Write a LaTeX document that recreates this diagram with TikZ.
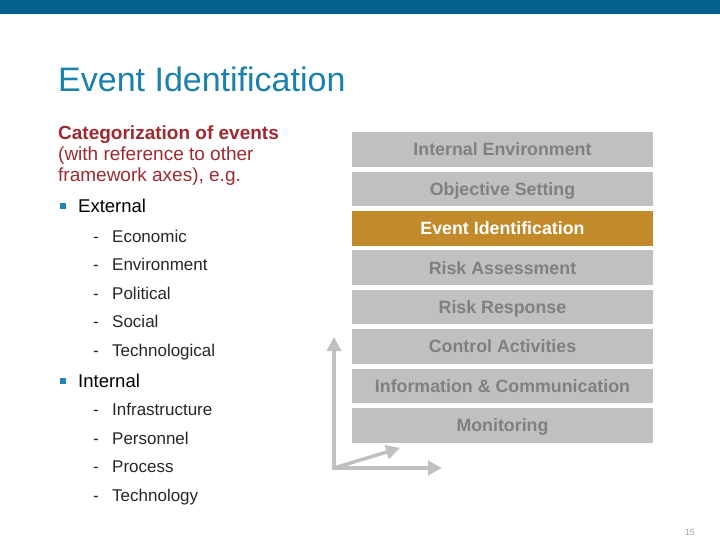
\documentclass[tikz,border=0pt]{standalone}
\usepackage{fontspec}
\setmainfont{Liberation Sans}
\usetikzlibrary{arrows.meta, positioning}
\definecolor{topbar}{HTML}{03608A}
\definecolor{titleblue}{HTML}{1A80B0}
\definecolor{darkred}{HTML}{9E2A2F}
\definecolor{boxgray}{HTML}{C0C0C0}
\definecolor{boxtext}{HTML}{808080}
\definecolor{gold}{HTML}{C28A2B}
\definecolor{bullet}{HTML}{1F87B5}

\begin{document}
\begin{tikzpicture}[
  x=1pt, y=-1pt,
  node distance=4.5pt,
  stage/.style={fill=boxgray, minimum width=301pt, minimum height=34.5pt,
                inner sep=0pt, text height=12.8pt, text depth=0pt,
                text=boxtext, font=\fontsize{17.8}{20}\selectfont\bfseries},
  current/.style={stage, fill=gold, text=white},
  intro/.style={anchor=base west, inner sep=0pt, text=darkred,
                font=\fontsize{19}{21}\selectfont},
  item/.style={anchor=base west, inner sep=0pt, text=black!85,
               font=\fontsize{17}{19}\selectfont},
  group/.style={anchor=base west, inner sep=0pt, text=black,
                font=\fontsize{18.5}{21}\selectfont},
  sq/.style={fill=bullet, minimum size=6pt, inner sep=0pt},
  axis/.style={-{Triangle[length=14pt, width=14pt]}, line width=3.5pt, color=boxgray}
]
  \useasboundingbox (0,0) rectangle (720,540);
  \fill[topbar] (0,0) rectangle (720,14);

  % Title
  \node[anchor=base west, inner sep=0pt, text=titleblue,
        font=\fontsize{34}{38}\selectfont] (title) at (58,92) {Event Identification};

  % Intro text
  \node[intro, font=\fontsize{19}{21}\selectfont\bfseries] (intro1) at (58,140) {Categorization of events};
  \node[intro] (intro2) at (58,161) {(with reference to other};
  \node[intro] (intro3) at (58,182) {framework axes), e.g.};

  % External
  \node[sq] (extsq) at (63,206) {};
  \node[group] (ext) at (78,212) {External};
  \foreach \txt [count=\i] in {Economic, Environment, Political, Social, Technological}
    \node[item] (ext\i) at (93,242+28.5*\i-28.5) {\makebox[19pt][l]{-}\txt};

  % Internal
  \node[sq] (intsq) at (63,381) {};
  \node[group] (int) at (78,387) {Internal};
  \foreach \txt [count=\i] in {Infrastructure, Personnel, Process, Technology}
    \node[item] (int\i) at (93,415.5+28.5*\i-28.5) {\makebox[19pt][l]{-}\txt};

  % ERM components
  \node[stage] (ienv) at (502.5,149.5) {Internal Environment};
  \node[stage, below=of ienv] (obj) {Objective Setting};
  \node[current, below=of obj] (event) {Event Identification};
  \node[stage, below=of event] (assess) {Risk Assessment};
  \node[stage, below=of assess] (resp) {Risk Response};
  \node[stage, below=of resp] (ctrl) {Control Activities};
  \node[stage, below=of ctrl] (info) {Information \& Communication};
  \node[stage, below=of info] (mon) {Monitoring};

  % Axes
  \coordinate (origin) at (334,468);
  \coordinate (ytip) at (334,337);
  \coordinate (xtip) at (442,468);
  \coordinate (ztip) at (400,448);
  \draw[axis] ([yshift=1.75pt]origin) -- (ytip);
  \draw[axis] ([xshift=-1.75pt]origin) -- (xtip);
  \draw[axis] (origin) -- (ztip);

  % Page number
  \node[anchor=base east, inner sep=0pt, text=black!35,
        font=\fontsize{9}{10}\selectfont] (page) at (695,535) {15};
\end{tikzpicture}
\end{document}
